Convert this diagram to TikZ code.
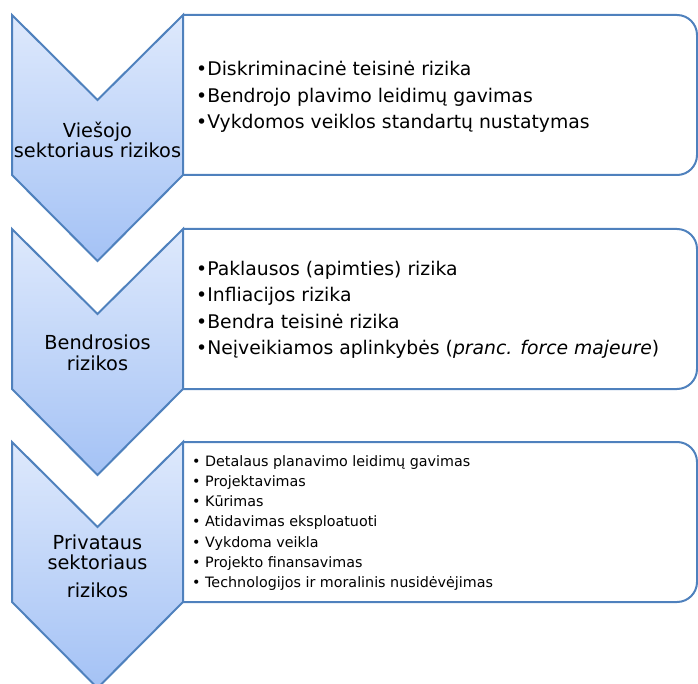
\documentclass[tikz,border=0pt]{standalone}
\usepackage{fontspec}
\setmainfont{DejaVu Sans}
\definecolor{chevline}{RGB}{79,129,189}
\definecolor{chevtop}{RGB}{222,233,252}
\definecolor{chevbot}{RGB}{164,194,245}
\tikzset{
  chevron/.style={draw=chevline,line width=2pt,line join=miter,
    top color=chevtop,bottom color=chevbot},
  riskbox/.style={draw=chevline,line width=2pt,rounded corners=20pt},
  headtext/.style={align=center,font=\fontsize{19.3}{20.5}\selectfont,inner sep=0pt},
  itemtext/.style={align=left,anchor=west,inner sep=0pt},
}
\begin{document}
\begin{tikzpicture}[x=1pt,y=-1pt]
\useasboundingbox (0,0) rectangle (698,684);
\foreach \t in {15,229,442} {
  \draw[riskbox] (183,\t) -- (697,\t) -- (697,\t+160) -- (183,\t+160);
  \draw[chevron] (12,\t) -- (97.5,\t+85) -- (183,\t) -- (183,\t+160)
    -- (97.5,\t+246) -- (12,\t+160) -- cycle;
}
\node[headtext] (head1) at (97.5,140) {Viešojo\\sektoriaus rizikos};
\node[headtext] (head2) at (97.5,353) {Bendrosios\\rizikos};
\node[headtext] (head3) at (97.5,566) {Privataus\\sektoriaus\\[7pt]rizikos};
\node[itemtext,font=\fontsize{18.8}{26.5}\selectfont] (list1) at (196,97)
  {•Diskriminacinė teisinė rizika\\
   •Bendrojo plavimo leidimų gavimas\\
   •Vykdomos veiklos standartų nustatymas};
\node[itemtext,font=\fontsize{18.8}{26.5}\selectfont] (list2) at (196,310)
  {•Paklausos (apimties) rizika\\
   •Infliacijos rizika\\
   •Bendra teisinė rizika\\
   •Neįveikiamos aplinkybės (\textit{pranc. force majeure})};
\node[itemtext,font=\fontsize{14.3}{20.2}\selectfont] (list3) at (192,523)
  {• Detalaus planavimo leidimų gavimas\\
   • Projektavimas\\
   • Kūrimas\\
   • Atidavimas eksploatuoti\\
   • Vykdoma veikla\\
   • Projekto finansavimas\\
   • Technologijos ir moralinis nusidėvėjimas};
\end{tikzpicture}
\end{document}
